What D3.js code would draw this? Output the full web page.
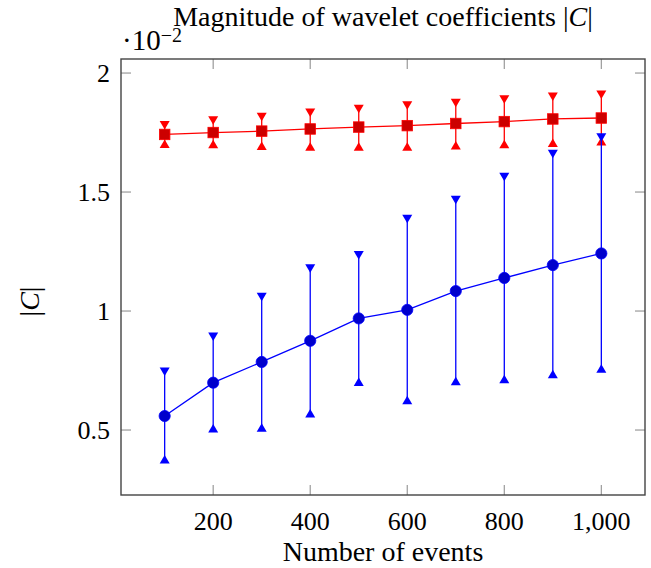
<!DOCTYPE html>
<html>
<head>
<meta charset="utf-8">
<script src="https://cdn.jsdelivr.net/npm/d3@7"></script>
<style>
  body { margin: 0; background: #fff; }
  text { font-family: "Liberation Serif", "DejaVu Serif", serif; fill: #000; }
</style>
</head>
<body>
<div id="chart"></div>
<script>
// number of events
var events = [100, 200, 300, 400, 500, 600, 700, 800, 900, 1000];

// blue series (values in units of 1e-2)
var blueMean  = [0.559, 0.699, 0.786, 0.875, 0.969, 1.005, 1.084, 1.139, 1.193, 1.242];
var blueUpper = [0.745, 0.892, 1.059, 1.179, 1.234, 1.387, 1.467, 1.563, 1.660, 1.729];
var blueLower = [0.377, 0.507, 0.511, 0.570, 0.703, 0.626, 0.706, 0.714, 0.735, 0.759];

// red series
var redMean  = [1.742, 1.750, 1.756, 1.765, 1.773, 1.779, 1.788, 1.796, 1.807, 1.811];
var redUpper = [1.781, 1.801, 1.815, 1.833, 1.849, 1.864, 1.874, 1.889, 1.900, 1.909];
var redLower = [1.703, 1.702, 1.695, 1.691, 1.691, 1.691, 1.697, 1.702, 1.707, 1.713];

var xTicks = [200, 400, 600, 800, 1000];
var yTicks = [0.5, 1, 1.5, 2];

var W = 651, H = 568;
var svg = d3.select("#chart").append("svg")
  .attr("width", W).attr("height", H);

// plot box (window.top is reserved, so use other names)
var pL = 121, pR = 645, pT = 59, pB = 495;

var x = d3.scaleLinear().domain([10, 1090]).range([pL, pR]);
var y = d3.scaleLinear().domain([0.227, 2.059]).range([pB, pT]);

var fmt = d3.format(",");

// tick marks (inside, all four sides)
var tickLen = 10;
var gt = svg.append("g").attr("stroke", "#9a9a9a").attr("stroke-width", 1.2);
xTicks.forEach(function (t) {
  gt.append("line").attr("x1", x(t)).attr("x2", x(t)).attr("y1", pB).attr("y2", pB - tickLen);
  gt.append("line").attr("x1", x(t)).attr("x2", x(t)).attr("y1", pT).attr("y2", pT + tickLen);
});
yTicks.forEach(function (t) {
  gt.append("line").attr("x1", pL).attr("x2", pL + tickLen).attr("y1", y(t)).attr("y2", y(t));
  gt.append("line").attr("x1", pR).attr("x2", pR - tickLen).attr("y1", y(t)).attr("y2", y(t));
});

// tick labels
svg.append("g").selectAll("text").data(xTicks).enter().append("text")
  .attr("x", function (d) { return x(d); })
  .attr("y", pB + 35)
  .attr("text-anchor", "middle")
  .attr("font-size", 26)
  .text(function (d) { return fmt(d); });

svg.append("g").selectAll("text").data(yTicks).enter().append("text")
  .attr("x", pL - 11)
  .attr("y", function (d) { return y(d) + 9; })
  .attr("text-anchor", "end")
  .attr("font-size", 26)
  .text(function (d) { return d; });

// series drawing
function drawSeries(mean, upper, lower, color, dark, markType) {
  var g = svg.append("g");
  // error bars
  g.selectAll("line.err").data(events).enter().append("line")
    .attr("x1", function (d) { return x(d); })
    .attr("x2", function (d) { return x(d); })
    .attr("y1", function (d, i) { return y(upper[i]); })
    .attr("y2", function (d, i) { return y(lower[i]); })
    .attr("stroke", color).attr("stroke-width", 1.3);

  var tw = 5, th = 8.5;
  // upper ends: down-pointing triangles
  g.selectAll("path.up").data(events).enter().append("path")
    .attr("d", function (d, i) {
      var cx = x(d), cy = y(upper[i]);
      return "M" + (cx - tw) + "," + (cy - th / 2) + "L" + (cx + tw) + "," + (cy - th / 2) + "L" + cx + "," + (cy + th / 2) + "Z";
    })
    .attr("fill", color);
  // lower ends: up-pointing triangles
  g.selectAll("path.lo").data(events).enter().append("path")
    .attr("d", function (d, i) {
      var cx = x(d), cy = y(lower[i]);
      return "M" + (cx - tw) + "," + (cy + th / 2) + "L" + (cx + tw) + "," + (cy + th / 2) + "L" + cx + "," + (cy - th / 2) + "Z";
    })
    .attr("fill", color);

  // line
  var line = d3.line()
    .x(function (d) { return x(d); })
    .y(function (d, i) { return y(mean[i]); });
  g.append("path").datum(events)
    .attr("d", line)
    .attr("fill", "none")
    .attr("stroke", color).attr("stroke-width", 1.3);

  // marks
  if (markType === "circle") {
    g.selectAll("circle").data(events).enter().append("circle")
      .attr("cx", function (d) { return x(d); })
      .attr("cy", function (d, i) { return y(mean[i]); })
      .attr("r", 5.6)
      .attr("fill", dark).attr("stroke", color).attr("stroke-width", 0.8);
  } else {
    var s = 10.5;
    g.selectAll("rect").data(events).enter().append("rect")
      .attr("x", function (d) { return x(d) - s / 2; })
      .attr("y", function (d, i) { return y(mean[i]) - s / 2; })
      .attr("width", s).attr("height", s)
      .attr("fill", dark).attr("stroke", color).attr("stroke-width", 0.8);
  }
}

drawSeries(redMean, redUpper, redLower, "#ff0000", "#cc0000", "square");
drawSeries(blueMean, blueUpper, blueLower, "#0000ff", "#0000cc", "circle");

// frame
svg.append("rect")
  .attr("x", pL).attr("y", pT)
  .attr("width", pR - pL).attr("height", pB - pT)
  .attr("fill", "none").attr("stroke", "#444").attr("stroke-width", 1.4);

// title
svg.append("text")
  .attr("x", (pL + pR) / 2).attr("y", 26)
  .attr("text-anchor", "middle").attr("font-size", 28)
  .html("Magnitude of wavelet coefficients |<tspan font-style='italic'>C</tspan>|");

// scale factor label
var sc = svg.append("text").attr("x", 122).attr("y", 50).attr("font-size", 29);
sc.append("tspan").text("·10");
sc.append("tspan").attr("dy", -8).attr("font-size", 20).text("−2");

// axis labels
svg.append("text")
  .attr("x", (pL + pR) / 2).attr("y", 561)
  .attr("text-anchor", "middle").attr("font-size", 28)
  .text("Number of events");

svg.append("text")
  .attr("transform", "translate(39," + y(1.04) + ") rotate(-90)")
  .attr("text-anchor", "middle").attr("font-size", 28)
  .html("|<tspan font-style='italic'>C</tspan>|");
</script>
</body>
</html>
